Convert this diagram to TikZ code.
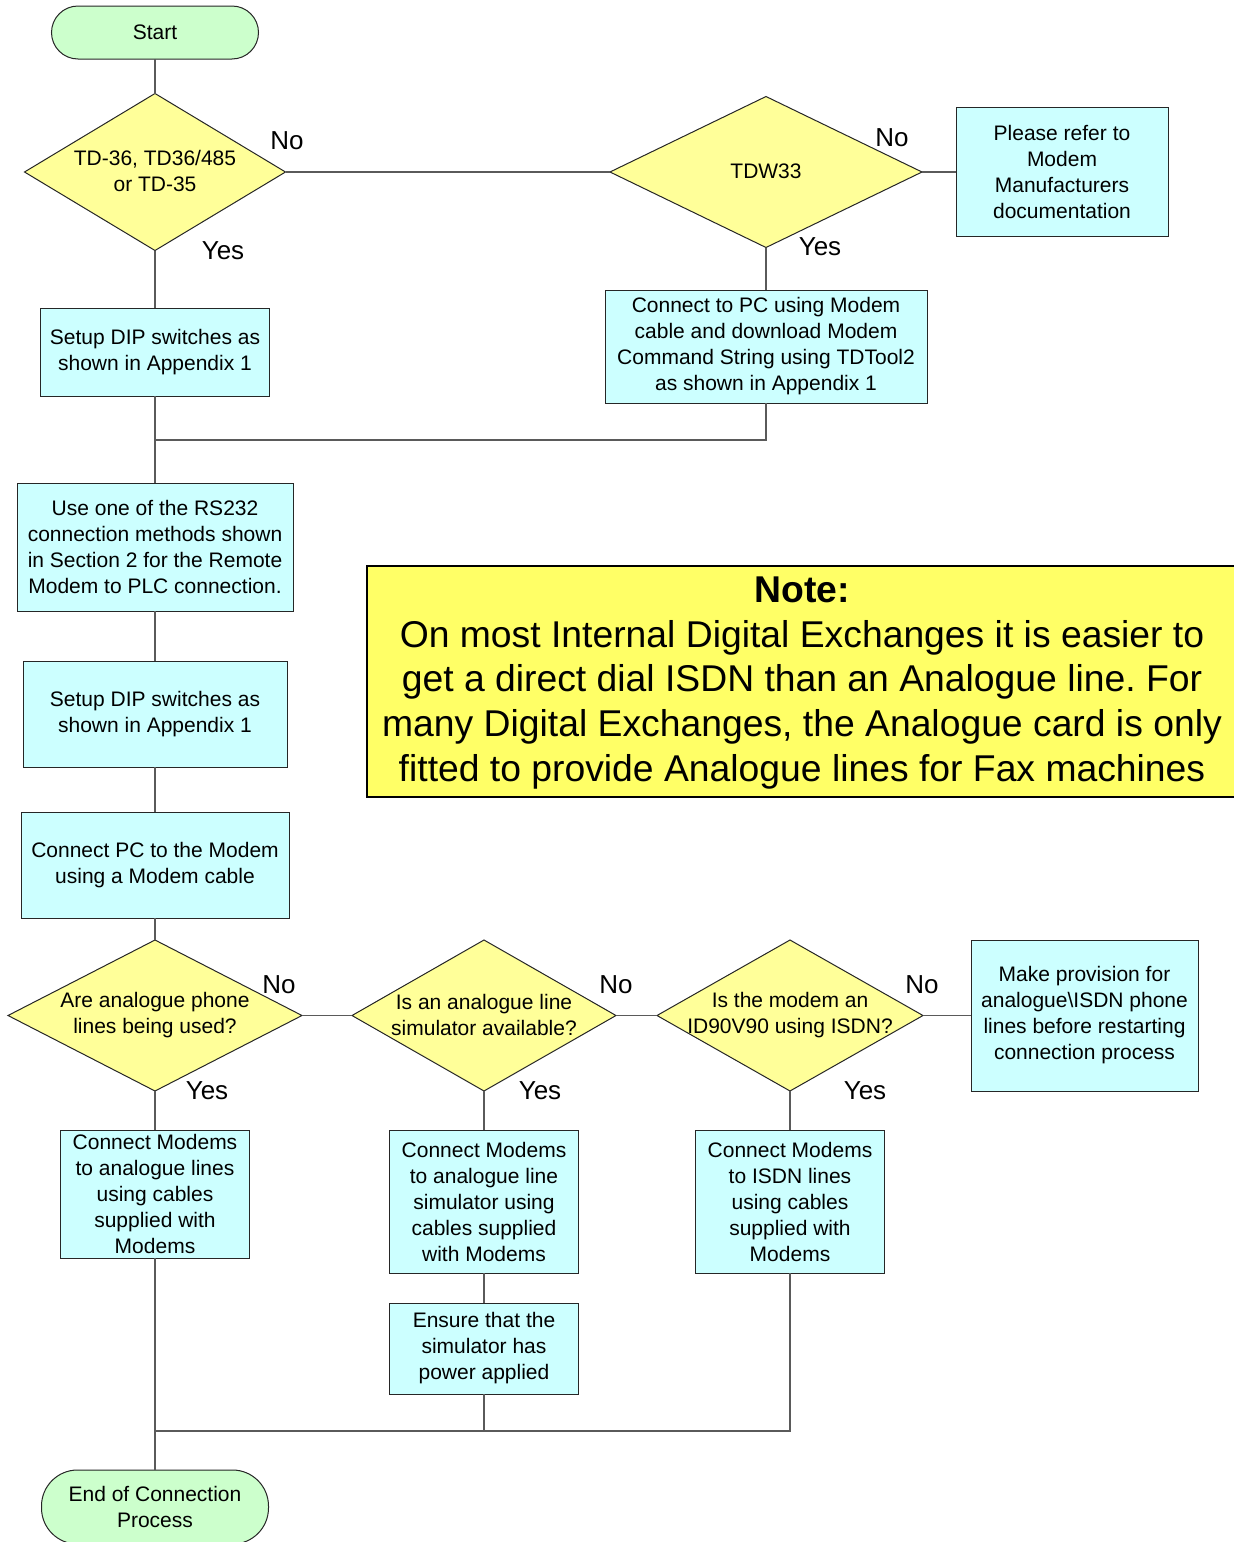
\documentclass[tikz,border=0pt]{standalone}
\usepackage{fontspec}
\setmainfont{Liberation Sans}
\usetikzlibrary{shapes.geometric}
\definecolor{boxcyan}{HTML}{CCFFFF}
\definecolor{decyellow}{HTML}{FFFF99}
\definecolor{termgreen}{HTML}{CCFFCC}
\definecolor{noteyellow}{HTML}{FFFF66}
\definecolor{linegray}{HTML}{5A5A5A}
\definecolor{edgegray}{HTML}{262626}
\frenchspacing
\begin{document}
\begin{tikzpicture}[x=1pt,y=-1pt,
  every node/.style={font=\fontsize{21}{26}\selectfont, align=center, inner sep=0pt, outer sep=0pt},
  procbox/.style={draw=edgegray, fill=boxcyan, line width=1pt, rectangle},
  decision/.style={draw=edgegray, fill=decyellow, line width=1pt, diamond, inner sep=0pt},
  terminal/.style={draw=edgegray, fill=termgreen, line width=1pt, rectangle},
  conn/.style={draw=linegray, line width=1.4pt},
  yn/.style={font=\fontsize{26}{30}\selectfont},
  notebox/.style={draw=black, fill=noteyellow, line width=1.4pt, rectangle}
]
\useasboundingbox (0,0) rectangle (1234,1542);

% terminals
\node[terminal, rounded corners=26.5pt, minimum width=207pt, minimum height=53pt] (start) at (155,32.5) {Start};
\node[terminal, rounded corners=36pt, minimum width=227pt, minimum height=74pt] (finish) at (155,1507) {End of Connection\\Process};

% top decisions
\node[decision, minimum width=261pt, minimum height=157pt] (d1) at (155,172) {};
\node (d1t) at (155,171) {TD-36, TD36/485\\or TD-35};
\node[decision, minimum width=312pt, minimum height=151pt] (d2) at (766,172) {};
\node (d2t) at (766,171) {TDW33};

\node[procbox, minimum width=212pt, minimum height=129pt] (refer) at (1062,172) {Please refer to\\Modem\\Manufacturers\\documentation};
\node[procbox, minimum width=229pt, minimum height=88pt] (b1) at (155,352) {Setup DIP switches as\\shown in Appendix 1};
\node[procbox, minimum width=322pt, minimum height=113pt] (b2) at (766,346.5) {Connect to PC using Modem\\cable and download Modem\\Command String using TDTool2\\as shown in Appendix 1};
\node[procbox, minimum width=276pt, minimum height=128pt] (b3) at (155,547) {Use one of the RS232\\connection methods shown\\in Section 2 for the Remote\\Modem to PLC connection.};
\node[procbox, minimum width=264pt, minimum height=106pt] (b4) at (155,714) {Setup DIP switches as\\shown in Appendix 1};
\node[procbox, minimum width=268pt, minimum height=106pt] (b5) at (155,865) {Connect PC to the Modem\\using a Modem cable};

% bottom decisions
\node[decision, minimum width=294pt, minimum height=151pt] (d3) at (155,1015.5) {};
\node (d3t) at (155,1015) {Are analogue phone\\lines being used?};
\node[decision, minimum width=264pt, minimum height=151pt] (d4) at (484,1015.5) {};
\node (d4t) at (484,1015) {Is an analogue line\\simulator available?};
\node[decision, minimum width=266pt, minimum height=151pt] (d5) at (790,1015.5) {};
\node (d5t) at (790,1015) {Is the modem an\\ID90V90 using ISDN?};
\node[procbox, minimum width=227pt, minimum height=151pt] (make) at (1084.5,1015.5) {Make provision for\\analogue\textbackslash ISDN phone\\lines before restarting\\connection process};

\node[procbox, minimum width=189pt, minimum height=128pt] (c1) at (155,1194) {Connect Modems\\to analogue lines\\using cables\\supplied with\\Modems};
\node[procbox, minimum width=189pt, minimum height=143pt] (c2) at (484,1201.5) {Connect Modems\\to analogue line\\simulator using\\cables supplied\\with Modems};
\node[procbox, minimum width=189pt, minimum height=143pt] (c3) at (790,1201.5) {Connect Modems\\to ISDN lines\\using cables\\supplied with\\Modems};
\node[procbox, minimum width=189pt, minimum height=91pt] (ens) at (484,1348.5) {Ensure that the\\simulator has\\power applied};

% note
\node[notebox, minimum width=872pt, minimum height=231pt] (note) at (803,681.5) {};
\node[font=\fontsize{37.3}{44.8}\selectfont] (notet) at (802,683) {\textbf{Note:}\\On most Internal Digital Exchanges it is easier to\\get a direct dial ISDN than an Analogue line. For\\many Digital Exchanges, the Analogue card is only\\fitted to provide Analogue lines for Fax machines};

% yes/no labels
\node[yn] (n1) at (287,141) {No};
\node[yn] (y1) at (223,251) {Yes};
\node[yn] (n2) at (892,138) {No};
\node[yn] (y2) at (820,247) {Yes};
\node[yn] (n3) at (279,985) {No};
\node[yn] (y3) at (207,1091) {Yes};
\node[yn] (n4) at (616,985) {No};
\node[yn] (y4) at (540,1091) {Yes};
\node[yn] (n5) at (922,985) {No};
\node[yn] (y5) at (865,1091) {Yes};

% junction points
\coordinate (j1) at (155,440);
\coordinate (j2) at (155,1431);

% connectors
\draw[conn] (start.south) -- (d1.north);
\draw[conn] (d1.east) -- (d2.west);
\draw[conn] (d2.east) -- (refer.west);
\draw[conn] (d1.south) -- (b1.north);
\draw[conn] (d2.south) -- (b2.north);
\draw[conn] (b1.south) -- (b3.north);
\draw[conn] (b2.south) |- (j1);
\draw[conn] (b3.south) -- (b4.north);
\draw[conn] (b4.south) -- (b5.north);
\draw[conn] (b5.south) -- (d3.north);
\draw[conn] (d3.east) -- (d4.west);
\draw[conn] (d4.east) -- (d5.west);
\draw[conn] (d5.east) -- (make.west);
\draw[conn] (d3.south) -- (c1.north);
\draw[conn] (d4.south) -- (c2.north);
\draw[conn] (d5.south) -- (c3.north);
\draw[conn] (c2.south) -- (ens.north);
\draw[conn] (c1.south) -- (finish.north);
\draw[conn] (ens.south) -- (ens.south |- j2);
\draw[conn] (c3.south) |- (j2);
\end{tikzpicture}
\end{document}
